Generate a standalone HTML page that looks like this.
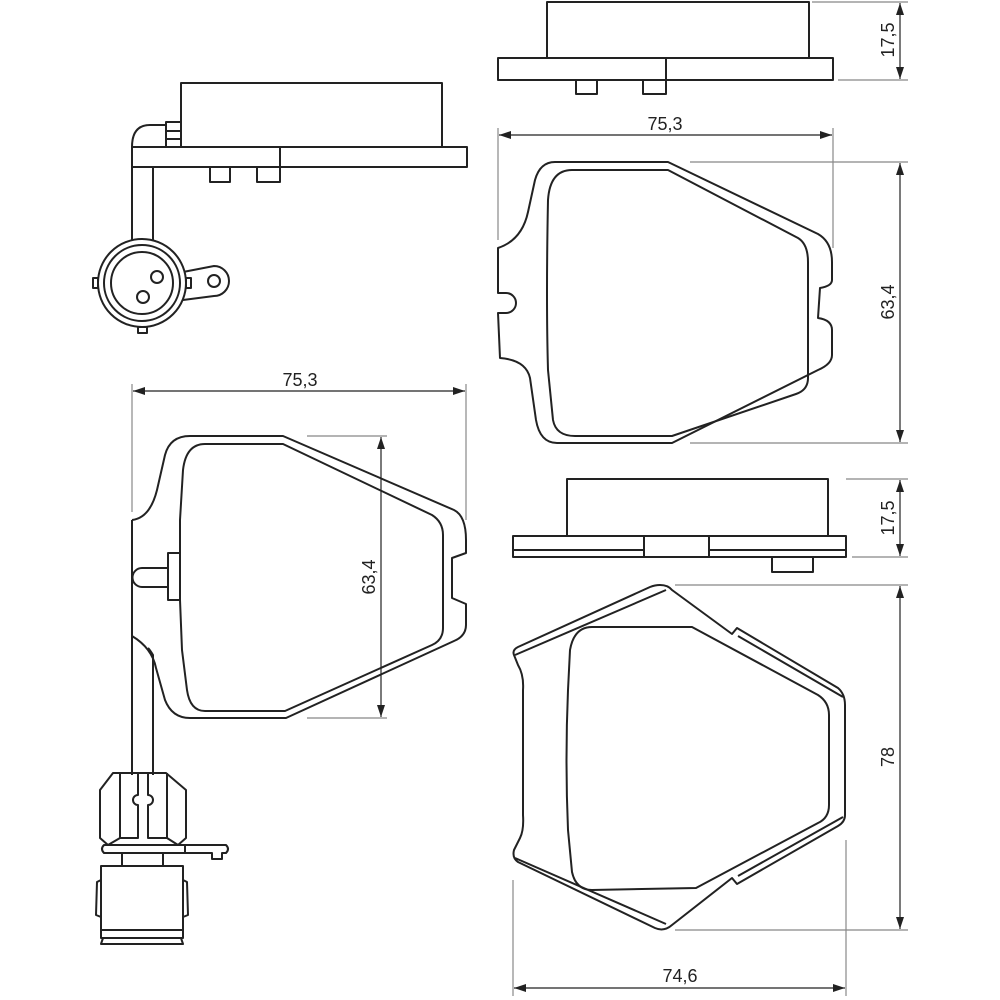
<!DOCTYPE html>
<html><head><meta charset="utf-8"><style>
html,body{margin:0;padding:0;background:#fff}
svg{display:block}
text{font-family:"Liberation Sans",sans-serif;font-size:18px;fill:#222}
</style></head><body>
<svg width="1000" height="1000" viewBox="0 0 1000 1000" xmlns="http://www.w3.org/2000/svg">
<defs>
<marker id="a" viewBox="0 0 12 8" refX="12" refY="4" markerWidth="12" markerHeight="8" markerUnits="userSpaceOnUse" orient="auto-start-reverse"><path d="M0,0 L12,4 L0,8 Z" fill="#222"/></marker>
</defs>
<g fill="none" stroke="#222" stroke-width="2" stroke-linejoin="round">
<rect x="181" y="83" width="261" height="64"/>
<rect x="132" y="147" width="335" height="20"/>
<line x1="280" y1="147" x2="280" y2="182"/>
<rect x="210" y="167" width="20" height="15"/>
<rect x="257" y="167" width="23" height="15"/>
<path d="M132,147 Q132,125 150,125 L166,125"/>
<rect x="166" y="122" width="15" height="25"/>
<line x1="166" y1="131" x2="181" y2="131"/><line x1="166" y1="139" x2="181" y2="139"/>
<line x1="132" y1="167" x2="132" y2="240"/><line x1="153" y1="167" x2="153" y2="240"/>
<path d="M183,272 L214,266 A14,14 0 0 1 214,296 L183,300"/>
<circle cx="214" cy="281" r="6"/>
<circle cx="142" cy="283" r="44" fill="#fff"/>
<circle cx="142" cy="283" r="38"/>
<circle cx="142" cy="283" r="31"/>
<circle cx="157" cy="277" r="6"/><circle cx="143" cy="297" r="6"/>
<rect x="93" y="278" width="5" height="10"/><rect x="186" y="278" width="5" height="10"/><rect x="138" y="327" width="9" height="6"/>

<rect x="547" y="2" width="262" height="56"/>
<rect x="498" y="58" width="335" height="22"/>
<line x1="666" y1="58" x2="666" y2="94"/>
<rect x="576" y="80" width="21" height="14"/>
<rect x="643" y="80" width="23" height="14"/>

<path d="M555,162 L668,162 L818,234 Q832,242 832,262 L832,280 Q832,286 820,288 L818,318 Q832,320 832,330 L832,355 Q832,364 818,370 L672,443 L557,443 Q540,443 536,420 L530,378 Q526,360 500,358 L498,313 L506,313 A10,10 0 0 0 506,293 L498,293 L498,248 Q522,240 528,212 L535,180 Q540,162 555,162 Z"/>
<path d="M572,170 L668,170 L798,238 Q808,244 808,262 L808,378 Q808,390 796,394 L672,436 L575,436 Q556,436 553,420 L548,370 Q546,300 548,200 Q550,170 572,170 Z"/>

<path d="M190,436 L283,436 L454,510 Q466,516 466,540 L466,553 L452,558 L452,598 L466,604 L466,625 Q466,636 454,641 L286,718 L190,718 Q172,718 165,700 L156,668 Q152,648 132,636"/>
<path d="M132,520 Q150,518 157,490 L165,455 Q170,436 190,436"/>
<path d="M205,444 L283,444 L432,515 Q443,522 443,535 L443,628 Q443,640 432,645 L285,711 L205,711 Q190,711 187,690 L182,650 L180,600 L180,520 L183,470 Q186,444 205,444 Z"/>
<rect x="168" y="553" width="12" height="47"/>
<path d="M168,568 L142,568 A9.5,9.5 0 0 0 142,587 L168,587"/>
<line x1="132" y1="520" x2="132" y2="775"/>
<path d="M153,775 L153,655 Q150,650 148,648"/>

<path d="M113,773 L166,773 L186,790 L186,838 L178,845 L108,845 L100,838 L100,790 Z"/>
<line x1="120" y1="773" x2="120" y2="838"/><line x1="167" y1="773" x2="167" y2="838"/>
<line x1="120" y1="838" x2="108" y2="845"/><line x1="167" y1="838" x2="178" y2="845"/>
<path d="M138,773 L138,795 A5,5 0 0 0 138,805 L138,838 L120,838"/>
<path d="M148,773 L148,795 A5,5 0 0 1 148,805 L148,838 L167,838"/>
<path d="M104,845 L226,845 Q230,849 226,853 L222,853 L222,859 L212,859 L212,853 L104,853 Q100,849 104,845 Z"/>
<line x1="185" y1="845" x2="185" y2="853"/>
<line x1="122" y1="853" x2="122" y2="866"/><line x1="163" y1="853" x2="163" y2="866"/>
<rect x="101" y="866" width="82" height="64"/>
<path d="M101,930 L183,930 L183,938 L101,938 Z"/>
<path d="M103,938 L181,938 L183,944 L101,944 Z"/>
<path d="M101,880 L97,882 L96,915 L101,917"/><path d="M183,880 L187,882 L188,915 L183,917"/>

<rect x="567" y="479" width="261" height="57"/>
<rect x="513" y="536" width="333" height="21"/>
<line x1="513" y1="550" x2="644" y2="550"/><line x1="709" y1="550" x2="846" y2="550"/>
<line x1="644" y1="536" x2="644" y2="557"/><line x1="709" y1="536" x2="709" y2="557"/>
<rect x="772" y="557" width="41" height="15"/>

<path d="M660,585 Q668,585 672,590 L732,634 L737,628 L838,688 Q845,694 845,705 L845,815 Q845,822 838,826 L737,884 L732,878 L672,925 Q664,932 655,928 L518,862 Q512,858 514,850 L520,838 Q524,830 523,815 L523,690 Q524,675 518,665 L514,655 Q512,650 518,647 L650,587 Q655,585 660,585 Z"/>
<line x1="515" y1="655" x2="666" y2="590"/>
<line x1="738" y1="636" x2="843" y2="697"/>
<line x1="738" y1="876" x2="843" y2="817"/>
<line x1="515" y1="858" x2="666" y2="924"/>
<path d="M592,627 L692,627 L818,695 Q829,702 829,715 L829,805 Q829,818 818,823 L696,888 L592,890 Q576,890 572,872 L568,830 Q565,760 568,690 L570,650 Q574,627 592,627 Z"/>
</g>

<g stroke="#888" stroke-width="1.2" fill="none">
<line x1="812" y1="2" x2="908" y2="2"/><line x1="838" y1="80" x2="908" y2="80"/>
<line x1="498" y1="128" x2="498" y2="240"/><line x1="833" y1="128" x2="833" y2="248"/>
<line x1="690" y1="162" x2="908" y2="162"/><line x1="690" y1="443" x2="908" y2="443"/>
<line x1="132" y1="384" x2="132" y2="512"/><line x1="466" y1="384" x2="466" y2="520"/>
<line x1="307" y1="436" x2="387" y2="436"/><line x1="307" y1="718" x2="387" y2="718"/>
<line x1="846" y1="479" x2="908" y2="479"/><line x1="852" y1="557" x2="908" y2="557"/>
<line x1="675" y1="585" x2="908" y2="585"/><line x1="675" y1="930" x2="908" y2="930"/>
<line x1="513" y1="880" x2="513" y2="996"/><line x1="846" y1="840" x2="846" y2="996"/>
</g>
<g stroke="#222" stroke-width="1.2" fill="none">
<line x1="900" y1="3" x2="900" y2="79" marker-start="url(#a)" marker-end="url(#a)"/>
<line x1="499" y1="135" x2="832" y2="135" marker-start="url(#a)" marker-end="url(#a)"/>
<line x1="900" y1="163" x2="900" y2="442" marker-start="url(#a)" marker-end="url(#a)"/>
<line x1="133" y1="391" x2="465" y2="391" marker-start="url(#a)" marker-end="url(#a)"/>
<line x1="381" y1="437" x2="381" y2="717" marker-start="url(#a)" marker-end="url(#a)"/>
<line x1="900" y1="480" x2="900" y2="556" marker-start="url(#a)" marker-end="url(#a)"/>
<line x1="900" y1="586" x2="900" y2="929" marker-start="url(#a)" marker-end="url(#a)"/>
<line x1="514" y1="988" x2="845" y2="988" marker-start="url(#a)" marker-end="url(#a)"/>
</g>
<text x="665" y="130" text-anchor="middle">75,3</text>
<text x="300" y="386" text-anchor="middle">75,3</text>
<text x="680" y="982" text-anchor="middle">74,6</text>
<text transform="translate(894,40) rotate(-90)" text-anchor="middle">17,5</text>
<text transform="translate(894,302) rotate(-90)" text-anchor="middle">63,4</text>
<text transform="translate(375,577) rotate(-90)" text-anchor="middle">63,4</text>
<text transform="translate(894,518) rotate(-90)" text-anchor="middle">17,5</text>
<text transform="translate(894,757) rotate(-90)" text-anchor="middle">78</text>
</svg>
</body></html>
